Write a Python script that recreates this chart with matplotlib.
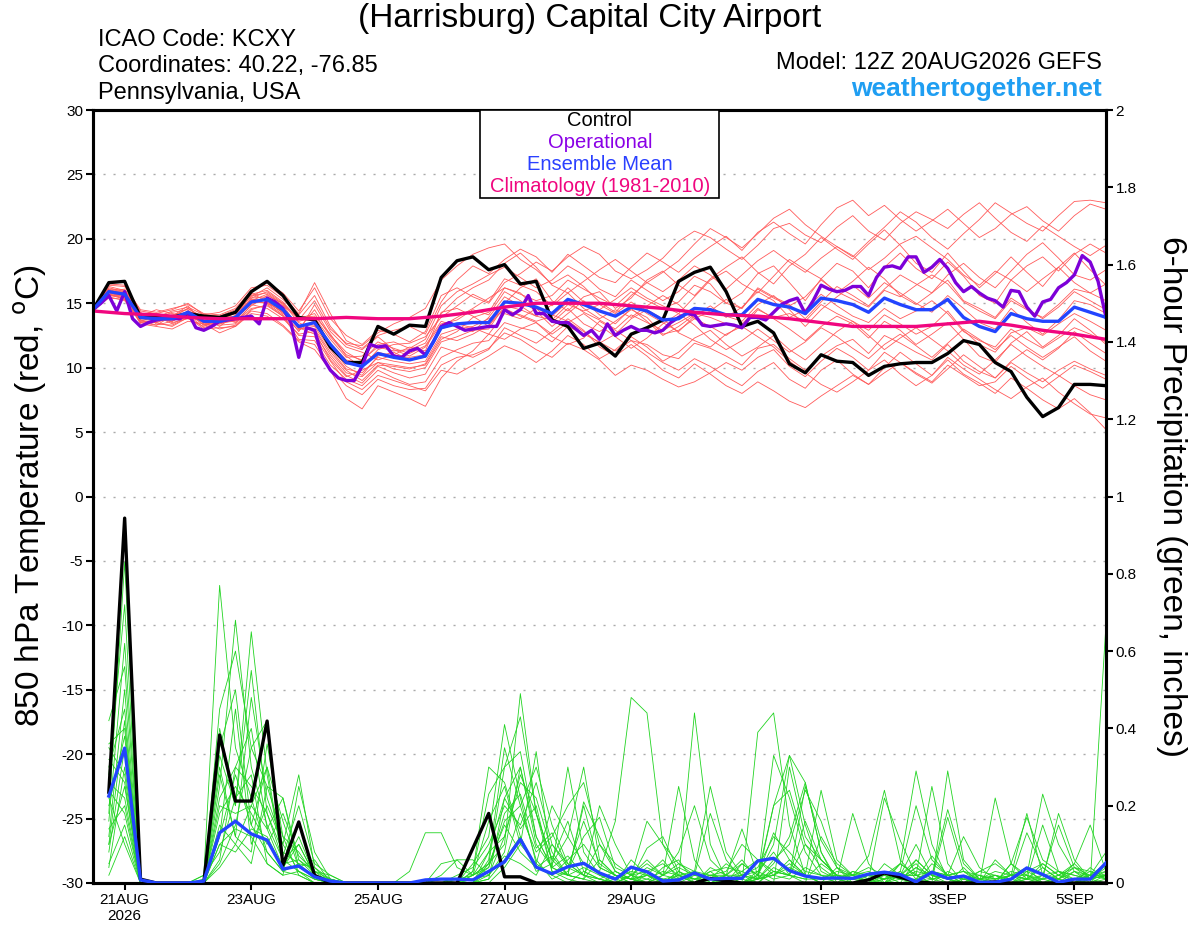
import numpy as np
import matplotlib
matplotlib.use('Agg')
import matplotlib.pyplot as plt
from matplotlib.patches import Rectangle

plt.rcParams['font.family'] = ['Liberation Sans', 'DejaVu Sans']

# ---- data (model run 12Z 20AUG2026, hours since start) ----
hours_6h = np.arange(65) * 6
hours_3h = np.arange(129) * 3
hours_12h = np.arange(33) * 12
hours_pcp = np.arange(1, 65) * 6

tick_hours = [12, 60, 108, 156, 204, 276, 324, 372]
tick_labels = ['21AUG\n2026', '23AUG', '25AUG', '27AUG', '29AUG', '1SEP', '3SEP', '5SEP']

# control temperature (6h)
control_t = [14.5, 16.6, 16.7, 13.9, 13.9, 13.9, 14.2, 14.0, 13.9, 14.3,
             15.9, 16.7, 15.6, 13.9, 13.7, 11.6, 10.4, 10.4, 13.2, 12.6,
             13.3, 13.2, 17.0, 18.3, 18.6, 17.6, 18.0, 16.5, 16.7, 13.7,
             13.2, 11.5, 11.9, 10.9, 12.6, 13.1, 13.7, 16.7, 17.4, 17.8,
             15.9, 13.2, 13.6, 12.7, 10.3, 9.6, 11.0, 10.5, 10.4, 9.4,
             10.1, 10.3, 10.4, 10.4, 11.1, 12.1, 11.8, 10.4, 9.7, 7.7,
             6.2, 6.9, 8.7, 8.7, 8.6]

# operational temperature (3h)
oper_t = [14.5, 15.0, 15.6, 14.4, 15.9, 13.8, 13.2, 13.5, 13.7, 13.8,
          13.8, 13.8, 14.3, 13.1, 12.9, 13.2, 13.6, 13.7, 13.8, 13.9,
          14.0, 13.4, 15.4, 15.1, 14.6, 13.5, 10.8, 13.1, 12.9, 10.8,
          9.8, 9.2, 9.0, 9.0, 10.1, 11.8, 11.6, 11.7, 10.9, 10.8,
          11.3, 11.5, 11.0, 12.0, 13.2, 13.5, 13.2, 12.9, 13.0, 13.1,
          13.2, 13.2, 14.5, 14.1, 14.5, 15.6, 14.2, 14.2, 13.6, 13.5,
          13.5, 13.0, 12.5, 12.9, 12.2, 13.4, 12.5, 12.9, 13.2, 12.9,
          12.9, 12.7, 12.9, 13.5, 13.9, 14.2, 14.1, 13.3, 13.2, 13.3,
          13.4, 13.3, 13.1, 13.9, 13.9, 13.7, 14.3, 14.9, 15.2, 15.4,
          14.2, 15.2, 16.4, 16.1, 15.9, 16.0, 16.3, 16.3, 15.6, 17.0,
          17.8, 17.9, 17.7, 18.6, 18.6, 17.4, 17.8, 18.4, 17.7, 16.6,
          15.9, 16.3, 15.8, 15.4, 15.2, 14.7, 16.0, 15.9, 14.7, 14.0,
          15.1, 15.3, 16.2, 16.6, 17.2, 18.7, 18.2, 16.7, 13.9]

# ensemble mean temperature (6h)
mean_t = [14.5, 15.9, 15.7, 13.9, 13.8, 13.8, 14.3, 13.6, 13.6, 13.9,
          15.1, 15.3, 14.5, 13.2, 13.5, 11.8, 10.4, 10.1, 11.1, 10.8,
          10.6, 10.9, 13.1, 13.4, 13.5, 13.5, 15.1, 15.0, 14.7, 14.2,
          15.3, 14.9, 14.4, 14.0, 14.7, 14.4, 13.7, 13.8, 14.6, 14.5,
          14.1, 14.1, 15.3, 14.9, 14.7, 14.2, 15.4, 15.2, 14.9, 14.3,
          15.4, 14.9, 14.5, 14.5, 15.3, 13.9, 13.2, 12.8, 14.2, 13.8,
          13.6, 13.6, 14.7, 14.3, 13.9]

# climatology 1981-2010 (12h)
clim_t = [14.4, 14.2, 14.1, 13.9, 13.8, 13.8, 13.8, 13.8, 13.9, 13.8,
          13.8, 14.0, 14.3, 14.7, 15.0, 15.0, 15.0, 14.8, 14.6, 14.3,
          14.1, 14.0, 13.8, 13.5, 13.2, 13.2, 13.2, 13.4, 13.6, 13.3,
          12.9, 12.6, 12.2]

# ensemble members temperature (6h)
ens_t = [
    [14.6, 16.2, 15.9, 14.2, 13.5, 13.9, 14.6, 13.9, 13.2, 14.1, 15.6, 15.8, 14.9, 13.0, 14.5, 12.5, 11.2, 10.5, 11.8, 12.0, 11.5, 12.2, 14.8, 15.9, 16.5, 17.2, 17.8, 17.0, 16.2, 16.8, 17.9, 17.2, 16.1, 15.5, 16.8, 16.0, 15.2, 15.9, 17.1, 16.5, 15.0, 15.8, 17.3, 17.9, 16.6, 15.2, 16.9, 18.1, 17.5, 16.2, 17.8, 18.9, 17.7, 16.9, 18.2, 17.1, 15.6, 15.0, 16.8, 17.9, 18.6, 17.5, 18.8, 19.6, 18.9],
    [14.4, 15.5, 15.2, 13.6, 14.0, 13.5, 13.8, 13.2, 13.9, 13.5, 14.6, 14.8, 14.0, 12.2, 12.1, 10.2, 9.1, 8.6, 9.8, 9.2, 8.7, 8.9, 10.8, 11.4, 11.9, 12.1, 13.5, 13.1, 12.8, 12.0, 13.2, 12.6, 12.0, 11.3, 12.1, 11.8, 11.0, 10.7, 11.9, 11.5, 10.9, 10.2, 11.5, 11.8, 10.7, 9.8, 10.9, 11.7, 12.2, 11.1, 12.5, 11.9, 11.2, 10.6, 11.8, 10.5, 9.7, 9.2, 10.4, 9.6, 8.9, 9.8, 10.5, 9.9, 9.4],
    [14.7, 16.4, 16.3, 14.5, 14.3, 14.6, 14.9, 14.2, 14.1, 14.6, 16.0, 16.6, 15.8, 14.4, 16.2, 13.8, 12.5, 11.8, 12.9, 12.6, 12.0, 12.8, 15.6, 16.2, 15.5, 15.0, 16.6, 17.3, 18.2, 17.5, 18.6, 19.4, 18.8, 17.5, 16.9, 17.6, 18.5, 19.8, 20.6, 20.1, 19.2, 18.4, 19.5, 20.8, 21.2, 20.3, 19.7, 20.9, 21.8, 20.6, 19.9, 21.2, 22.1, 21.5, 20.8, 21.9, 22.8, 21.6, 20.5, 19.8, 21.0, 20.2, 19.4, 18.7, 19.5],
    [14.3, 15.7, 15.4, 13.4, 13.2, 13.0, 13.6, 13.4, 12.7, 13.2, 14.2, 14.0, 13.2, 12.0, 11.4, 9.8, 7.6, 6.8, 8.6, 8.1, 7.6, 7.0, 9.2, 10.5, 11.3, 12.6, 12.2, 13.0, 13.5, 12.4, 11.8, 12.3, 13.6, 12.9, 12.1, 11.2, 10.4, 9.8, 10.7, 10.1, 9.3, 8.6, 9.7, 10.4, 9.1, 8.4, 9.8, 10.6, 9.5, 8.7, 10.0, 11.2, 10.3, 9.4, 10.6, 9.5, 8.8, 8.0, 9.2, 8.4, 7.5, 6.8, 7.6, 6.5, 5.2],
    [14.5, 16.0, 15.8, 14.0, 14.5, 14.2, 14.0, 13.5, 13.8, 14.2, 15.3, 15.2, 14.2, 13.6, 13.9, 12.2, 10.8, 10.9, 12.0, 11.5, 11.1, 11.7, 13.6, 13.2, 12.8, 13.9, 15.5, 14.8, 14.0, 14.9, 16.2, 15.1, 14.5, 15.3, 16.2, 15.4, 14.8, 14.2, 15.5, 16.8, 17.5, 16.5, 15.8, 17.1, 18.4, 17.6, 16.9, 15.8, 16.7, 17.8, 16.9, 15.6, 14.9, 15.8, 17.2, 18.1, 17.0, 16.2, 17.5, 18.8, 19.7, 18.5, 17.2, 16.8, 17.6],
    [14.6, 15.8, 15.5, 13.7, 13.3, 14.0, 14.8, 13.4, 13.5, 13.6, 14.8, 15.6, 15.0, 13.5, 12.9, 11.0, 9.6, 9.3, 10.4, 10.2, 10.0, 10.2, 12.2, 12.8, 13.9, 14.3, 16.2, 15.8, 14.6, 13.5, 14.6, 13.4, 12.8, 13.6, 14.5, 13.9, 12.6, 12.9, 13.8, 13.2, 12.5, 13.4, 14.6, 13.8, 13.0, 12.1, 13.2, 14.0, 13.4, 12.3, 13.6, 12.9, 11.8, 12.6, 13.5, 12.2, 10.9, 10.4, 11.9, 12.8, 11.6, 12.5, 13.8, 12.9, 11.8],
    [14.4, 16.3, 16.0, 14.1, 13.9, 13.6, 14.4, 14.0, 13.8, 14.4, 15.8, 15.1, 14.3, 12.8, 14.9, 12.8, 11.6, 11.2, 10.6, 11.0, 11.6, 11.3, 14.3, 14.6, 14.0, 13.2, 15.0, 16.2, 16.9, 15.2, 14.4, 15.5, 15.9, 14.6, 15.4, 16.8, 17.5, 16.4, 15.6, 16.9, 17.8, 18.6, 17.4, 16.5, 17.9, 18.8, 20.1, 19.2, 18.4, 19.6, 20.7, 19.5, 18.1, 17.4, 18.9, 17.5, 16.2, 17.3, 18.6, 17.4, 16.3, 17.8, 18.9, 17.6, 16.4],
    [14.5, 15.6, 15.7, 13.8, 14.1, 13.7, 14.2, 13.8, 13.4, 13.7, 15.0, 15.4, 14.6, 13.0, 13.2, 11.4, 9.9, 9.6, 10.8, 10.5, 10.3, 10.5, 12.6, 13.0, 13.2, 13.8, 14.4, 14.1, 13.6, 14.0, 15.1, 14.3, 13.7, 13.0, 14.1, 13.5, 12.9, 13.5, 14.2, 13.9, 13.4, 13.0, 14.5, 13.9, 14.2, 13.6, 14.9, 14.2, 13.6, 12.9, 14.1, 13.4, 12.6, 13.2, 14.4, 12.9, 11.8, 11.2, 12.7, 13.1, 12.5, 13.4, 14.2, 13.6, 12.9],
    [14.6, 16.1, 15.6, 13.5, 13.6, 13.9, 14.1, 13.1, 13.6, 13.8, 15.2, 15.7, 14.8, 13.9, 14.0, 12.6, 10.9, 10.0, 11.4, 11.8, 11.9, 12.4, 13.9, 14.8, 15.7, 15.1, 16.9, 16.4, 15.9, 14.8, 15.8, 14.6, 13.8, 14.5, 13.9, 14.8, 15.6, 14.9, 13.8, 14.4, 15.3, 14.6, 16.2, 15.5, 14.9, 13.8, 15.1, 16.3, 15.6, 14.8, 16.1, 17.2, 16.5, 15.8, 16.8, 15.2, 14.6, 13.9, 15.4, 14.6, 13.8, 14.7, 15.9, 15.2, 14.5],
    [14.3, 15.9, 16.1, 14.3, 13.4, 13.3, 13.9, 13.7, 13.3, 13.4, 14.9, 14.6, 13.8, 12.6, 12.8, 10.6, 9.3, 9.8, 10.4, 9.9, 9.7, 10.0, 12.0, 12.4, 12.9, 13.0, 14.8, 14.5, 14.0, 13.7, 14.9, 14.4, 14.9, 14.2, 15.1, 14.2, 13.5, 12.8, 14.0, 14.8, 13.9, 14.7, 15.9, 15.2, 13.9, 14.5, 15.7, 14.8, 14.0, 13.5, 14.6, 13.8, 14.4, 15.2, 14.2, 12.8, 12.1, 11.6, 13.0, 12.2, 11.5, 12.3, 13.1, 12.6, 12.0],
    [14.5, 15.4, 15.3, 13.9, 13.8, 14.3, 14.5, 13.3, 13.7, 14.3, 15.5, 16.2, 15.3, 14.1, 15.6, 13.2, 11.8, 11.4, 12.4, 11.4, 10.9, 11.6, 13.4, 13.7, 14.5, 14.1, 15.9, 15.2, 14.4, 13.2, 14.2, 15.2, 14.1, 13.4, 14.6, 13.6, 12.5, 13.2, 14.1, 14.6, 14.0, 13.6, 14.9, 15.6, 14.5, 13.2, 14.5, 15.5, 16.4, 15.4, 16.6, 15.8, 15.0, 14.3, 15.6, 14.6, 13.5, 13.0, 14.6, 13.5, 12.6, 13.7, 15.2, 14.9, 14.2],
    [14.4, 15.6, 15.4, 13.6, 13.5, 13.2, 13.9, 13.0, 13.1, 13.2, 14.4, 14.2, 13.3, 12.1, 11.8, 9.9, 8.6, 7.9, 9.1, 8.6, 8.3, 8.4, 10.2, 10.8, 11.0, 11.5, 12.7, 12.2, 11.4, 10.8, 11.9, 11.4, 10.6, 9.4, 10.2, 9.8, 9.1, 8.5, 8.9, 9.6, 10.4, 9.8, 10.8, 11.4, 10.1, 9.3, 10.5, 11.5, 10.8, 9.8, 11.2, 10.4, 9.6, 8.9, 10.2, 9.4, 8.6, 8.9, 10.1, 9.2, 8.4, 9.3, 10.2, 9.7, 9.1],
    [14.6, 16.5, 16.4, 14.4, 14.2, 14.5, 15.0, 14.1, 14.3, 14.8, 16.2, 16.4, 15.5, 14.2, 16.6, 14.2, 12.1, 11.5, 12.5, 12.9, 13.2, 12.6, 15.1, 16.8, 17.9, 17.3, 18.4, 19.2, 18.6, 17.4, 18.8, 17.9, 17.0, 16.6, 17.8, 18.9, 18.2, 17.4, 18.5, 19.4, 20.2, 19.1, 20.5, 21.3, 20.4, 19.6, 21.1, 22.4, 23.0, 21.8, 22.6, 21.5, 20.6, 21.4, 22.3, 21.2, 20.1, 20.8, 21.9, 22.5, 21.4, 20.6, 21.8, 22.7, 22.3],
    [14.5, 15.8, 15.8, 14.0, 14.0, 13.4, 14.0, 13.6, 13.6, 13.9, 15.1, 15.0, 14.1, 12.9, 13.6, 11.6, 10.1, 9.4, 10.9, 11.2, 10.6, 10.8, 13.0, 13.4, 13.1, 12.6, 14.2, 13.8, 14.6, 14.1, 13.6, 12.8, 11.9, 12.6, 13.8, 14.5, 13.8, 12.7, 12.1, 11.6, 12.6, 13.2, 12.4, 11.6, 10.5, 9.6, 8.7, 8.1, 8.9, 9.8, 10.6, 9.5, 8.6, 9.4, 10.8, 9.9, 9.1, 8.3, 7.6, 8.5, 9.2, 8.1, 7.2, 6.4, 6.1],
    [14.4, 16.0, 15.6, 13.7, 13.7, 14.1, 14.3, 13.5, 13.5, 13.7, 15.4, 15.5, 14.6, 13.3, 13.3, 11.9, 10.6, 10.3, 11.2, 10.9, 10.8, 11.0, 13.2, 13.9, 14.6, 15.4, 16.2, 15.7, 15.2, 15.6, 16.8, 16.1, 15.4, 14.8, 15.9, 15.2, 14.6, 15.1, 16.4, 15.9, 15.0, 14.6, 16.1, 15.4, 14.8, 15.5, 16.8, 15.9, 15.3, 14.7, 16.0, 15.5, 16.4, 17.2, 16.5, 15.1, 14.4, 13.8, 15.2, 14.5, 13.9, 14.9, 16.1, 15.8, 15.2],
    [14.5, 15.7, 15.5, 14.0, 13.6, 13.8, 14.1, 13.6, 13.4, 13.8, 15.0, 15.1, 14.3, 13.1, 12.6, 10.8, 9.4, 8.8, 10.1, 9.6, 9.2, 9.5, 11.6, 11.2, 10.8, 11.4, 13.1, 12.5, 11.9, 12.8, 13.8, 12.9, 11.6, 10.9, 11.8, 10.9, 9.8, 9.2, 10.3, 9.5, 8.6, 8.0, 8.9, 8.2, 7.4, 6.9, 7.8, 8.6, 9.4, 8.7, 9.6, 10.4, 9.5, 8.8, 9.9, 11.0, 10.1, 9.2, 10.5, 11.4, 10.6, 11.5, 12.8, 11.9, 11.1],
    [14.5, 16.1, 16.0, 14.2, 13.9, 14.4, 14.7, 14.1, 14.0, 14.5, 15.7, 16.0, 15.1, 13.7, 15.2, 13.0, 11.9, 11.7, 12.7, 13.4, 13.9, 14.6, 16.8, 17.9, 18.8, 19.3, 19.6, 18.4, 17.6, 16.5, 17.2, 16.3, 15.1, 14.3, 15.6, 16.6, 17.4, 18.3, 19.6, 20.8, 20.1, 19.3, 20.4, 21.6, 22.3, 21.1, 20.2, 19.4, 18.6, 19.8, 20.9, 22.1, 21.3, 20.1, 19.2, 20.4, 21.5, 22.8, 22.0, 21.2, 20.6, 21.8, 22.9, 23.0, 22.8],
    [14.4, 15.7, 15.3, 13.5, 13.3, 13.6, 14.3, 13.5, 13.0, 13.3, 14.5, 14.9, 14.0, 12.5, 12.4, 10.5, 8.9, 8.3, 9.4, 9.0, 8.6, 8.2, 9.8, 9.5, 10.2, 10.9, 11.7, 11.2, 10.4, 11.3, 12.5, 11.8, 10.7, 11.4, 12.4, 11.6, 10.5, 11.2, 12.3, 12.9, 11.8, 10.9, 11.6, 12.5, 11.4, 10.6, 11.7, 12.8, 13.6, 12.5, 11.4, 12.3, 13.1, 12.2, 11.3, 10.2, 9.5, 10.6, 11.8, 10.9, 10.1, 9.4, 8.6, 7.9, 7.5],
    [14.6, 15.9, 15.9, 14.1, 14.2, 14.0, 14.6, 13.8, 13.9, 14.0, 15.4, 15.9, 15.0, 13.8, 14.2, 12.4, 11.0, 10.6, 11.6, 11.3, 11.4, 11.9, 14.2, 15.4, 16.2, 16.8, 18.1, 18.9, 17.8, 16.4, 15.8, 16.7, 17.6, 18.4, 17.5, 16.6, 15.9, 16.8, 17.9, 17.2, 16.1, 17.2, 18.3, 19.1, 18.2, 17.4, 18.5, 19.4, 18.7, 17.6, 18.5, 19.6, 20.2, 19.3, 18.4, 17.2, 16.4, 17.5, 16.8, 15.9, 16.9, 17.8, 16.6, 15.8, 16.5],
    [14.5, 15.8, 15.6, 13.8, 13.9, 13.6, 14.2, 13.3, 13.5, 13.9, 15.2, 15.0, 14.4, 13.1, 13.0, 11.2, 9.8, 9.0, 10.2, 10.1, 9.9, 10.3, 12.4, 12.1, 12.6, 13.3, 14.6, 14.0, 13.5, 12.6, 13.5, 14.2, 13.3, 12.4, 11.5, 12.3, 13.4, 14.2, 13.3, 12.2, 11.4, 12.1, 13.0, 12.1, 11.2, 12.0, 13.1, 12.4, 11.5, 10.7, 11.8, 12.6, 11.7, 10.8, 11.9, 13.0, 12.2, 11.4, 12.5, 11.6, 10.8, 11.6, 12.4, 11.3, 10.5],
]

# 6-hour precipitation, inches (valid 18Z 20AUG onwards)
control_p = [0.235, 0.944, 0.01, 0, 0, 0, 0, 0.383, 0.212, 0.212,
             0.419, 0.046, 0.158, 0.02, 0, 0, 0, 0, 0, 0,
             0, 0, 0, 0.09, 0.18, 0.016, 0.016, 0, 0, 0,
             0, 0, 0, 0, 0, 0, 0, 0, 0.012, 0.005,
             0, 0, 0, 0, 0, 0, 0, 0, 0.008, 0.026,
             0.015, 0.003, 0, 0, 0, 0, 0.003, 0, 0, 0,
             0, 0, 0, 0]

mean_p = [0.225, 0.349, 0.008, 0, 0, 0, 0.005, 0.13, 0.16, 0.127,
          0.111, 0.036, 0.044, 0.016, 0.005, 0, 0, 0, 0, 0,
          0.008, 0.01, 0.01, 0.008, 0.03, 0.055, 0.113, 0.041, 0.024, 0.042,
          0.051, 0.026, 0.01, 0.041, 0.029, 0.005, 0.008, 0.026, 0.01, 0.012,
          0.012, 0.057, 0.064, 0.032, 0.018, 0.012, 0.013, 0.012, 0.023, 0.028,
          0.022, 0.003, 0.028, 0.012, 0.018, 0.002, 0.002, 0.01, 0.039, 0.022,
          0.002, 0.01, 0.01, 0.052]

ens_p = [
    [0.18, 0.83, 0, 0, 0, 0, 0.02, 0.77, 0.35, 0.22, 0.08, 0.03, 0.05, 0.01, 0, 0, 0, 0, 0, 0, 0, 0, 0, 0.05, 0.12, 0.41, 0.22, 0.05, 0.02, 0, 0.03, 0.01, 0, 0.06, 0.02, 0, 0, 0, 0.04, 0.02, 0, 0.39, 0.44, 0.15, 0.02, 0, 0, 0, 0, 0.01, 0.03, 0, 0.05, 0.02, 0, 0, 0, 0, 0.03, 0.01, 0, 0, 0, 0.05],
    [0.42, 0.56, 0.01, 0, 0, 0, 0, 0.25, 0.68, 0.3, 0.15, 0.06, 0.1, 0.02, 0, 0, 0, 0, 0, 0.03, 0.13, 0.13, 0.04, 0.02, 0.05, 0.1, 0.49, 0.18, 0.03, 0.01, 0, 0, 0.02, 0.01, 0, 0, 0.03, 0.01, 0, 0, 0.05, 0.02, 0.1, 0.33, 0.26, 0.08, 0.01, 0, 0, 0, 0.02, 0.05, 0.01, 0, 0, 0.02, 0, 0, 0.01, 0.05, 0.02, 0, 0, 0.67],
    [0.3, 0.45, 0, 0, 0, 0, 0, 0.4, 0.2, 0.65, 0.28, 0.05, 0.06, 0.02, 0.01, 0, 0, 0, 0, 0, 0, 0, 0, 0.03, 0.23, 0.3, 0.34, 0.12, 0.04, 0.3, 0.08, 0.02, 0, 0.02, 0.16, 0.1, 0.05, 0.03, 0, 0.01, 0.02, 0.01, 0.05, 0.12, 0.26, 0.08, 0, 0, 0, 0.03, 0.01, 0, 0, 0.29, 0.06, 0.01, 0, 0.02, 0.01, 0, 0, 0.03, 0.01, 0.04],
    [0.08, 0.35, 0, 0, 0, 0, 0, 0.12, 0.45, 0.1, 0.2, 0.1, 0.28, 0.04, 0, 0, 0, 0, 0, 0, 0, 0, 0, 0, 0.05, 0.3, 0.43, 0.18, 0.06, 0.02, 0.2, 0.04, 0.02, 0, 0, 0, 0.02, 0, 0, 0, 0, 0.03, 0.08, 0.02, 0.25, 0.11, 0.04, 0, 0.02, 0, 0, 0.01, 0.07, 0.02, 0, 0, 0, 0, 0.02, 0.23, 0.1, 0.03, 0, 0.02],
    [0.26, 0.22, 0, 0, 0, 0, 0, 0.05, 0.15, 0.35, 0.42, 0.07, 0.2, 0.05, 0.02, 0, 0, 0, 0, 0, 0, 0, 0.02, 0.04, 0.1, 0.2, 0.15, 0.26, 0.1, 0.05, 0.02, 0.1, 0.05, 0.02, 0, 0.04, 0.06, 0, 0, 0.02, 0.05, 0.02, 0, 0.3, 0.12, 0.06, 0.02, 0, 0, 0, 0.05, 0.02, 0.25, 0.05, 0, 0, 0.02, 0, 0, 0, 0.01, 0.05, 0.15, 0.03],
    [0.05, 0.15, 0, 0, 0, 0, 0.01, 0.3, 0.12, 0.08, 0.36, 0.12, 0.02, 0, 0, 0, 0, 0, 0, 0, 0, 0, 0.01, 0.02, 0.16, 0.25, 0.1, 0.05, 0.2, 0.12, 0.05, 0.03, 0.16, 0.48, 0.44, 0.1, 0.02, 0, 0.03, 0, 0, 0.01, 0.02, 0.05, 0.02, 0, 0.04, 0.02, 0.07, 0.24, 0.06, 0.01, 0, 0, 0.04, 0, 0.22, 0.05, 0.01, 0.15, 0.03, 0, 0.01, 0.02],
    [0.35, 0.28, 0, 0, 0, 0, 0, 0.18, 0.25, 0.18, 0.1, 0.18, 0.07, 0.03, 0, 0, 0, 0, 0, 0, 0, 0.02, 0.06, 0.06, 0.02, 0.08, 0.3, 0.12, 0.04, 0.07, 0.02, 0, 0, 0, 0.02, 0.06, 0.01, 0.44, 0.1, 0.01, 0, 0.02, 0.13, 0.06, 0.02, 0, 0.01, 0.18, 0.05, 0, 0.03, 0.2, 0.06, 0.02, 0.01, 0, 0, 0.05, 0.02, 0, 0, 0, 0.04, 0.01],
    [0.12, 0.5, 0, 0, 0, 0, 0, 0.22, 0.3, 0.4, 0.14, 0.04, 0.12, 0.02, 0, 0, 0, 0, 0, 0, 0, 0, 0, 0.01, 0.04, 0.18, 0.23, 0.09, 0.13, 0.04, 0.16, 0.05, 0.02, 0.01, 0.09, 0.12, 0.03, 0, 0, 0, 0, 0.01, 0.33, 0.22, 0.08, 0.02, 0, 0.03, 0.01, 0, 0.02, 0.1, 0.02, 0.01, 0, 0.03, 0.05, 0.02, 0, 0.01, 0.18, 0.06, 0.01, 0],
    [0.2, 0.38, 0, 0, 0, 0, 0, 0.15, 0.1, 0.05, 0.25, 0.22, 0.04, 0.06, 0, 0, 0, 0, 0, 0, 0, 0, 0, 0, 0.08, 0.12, 0.28, 0.18, 0.06, 0.16, 0.03, 0.01, 0, 0.02, 0.05, 0.02, 0.05, 0.02, 0.18, 0.06, 0.01, 0, 0.04, 0.02, 0, 0.12, 0.05, 0.02, 0, 0.05, 0.02, 0, 0.01, 0.17, 0.03, 0, 0, 0.01, 0.13, 0.04, 0.01, 0, 0.02, 0.05],
    [0.1, 0.42, 0, 0, 0, 0, 0.02, 0.08, 0.22, 0.28, 0.05, 0.02, 0.25, 0.08, 0.01, 0, 0, 0, 0, 0, 0, 0.01, 0, 0, 0.03, 0.05, 0.18, 0.08, 0.12, 0.2, 0.26, 0.1, 0.03, 0.01, 0, 0.02, 0.25, 0.06, 0, 0.02, 0.06, 0.01, 0.02, 0.04, 0.02, 0.24, 0.06, 0.02, 0, 0, 0.01, 0.04, 0.02, 0.19, 0.05, 0.01, 0, 0.02, 0.02, 0, 0, 0.01, 0.02, 0.03],
    [0.24, 0.18, 0, 0, 0, 0, 0, 0.1, 0.14, 0.12, 0.05, 0.02, 0.03, 0.01, 0, 0, 0, 0, 0, 0, 0, 0, 0, 0, 0, 0.04, 0.1, 0.34, 0.04, 0.02, 0.21, 0.12, 0.03, 0.01, 0.04, 0.02, 0.01, 0.03, 0.25, 0.08, 0.02, 0.01, 0.06, 0.1, 0.24, 0.16, 0.04, 0.01, 0.02, 0.02, 0, 0.06, 0.02, 0, 0, 0, 0.06, 0.02, 0.04, 0, 0.02, 0.04, 0.02, 0.08],
    [0.16, 0.62, 0.01, 0, 0, 0, 0, 0.35, 0.5, 0.15, 0.08, 0.03, 0.02, 0, 0, 0, 0, 0, 0, 0, 0, 0, 0, 0, 0.06, 0.35, 0.2, 0.06, 0.01, 0.03, 0.12, 0.17, 0.04, 0.02, 0.03, 0.01, 0, 0.02, 0.01, 0.05, 0.02, 0, 0.03, 0.02, 0.1, 0.06, 0.02, 0.01, 0.01, 0.22, 0.11, 0.02, 0, 0.03, 0.01, 0, 0, 0.05, 0.17, 0.06, 0.03, 0.01, 0, 0.01],
    [0.04, 0.3, 0, 0, 0, 0, 0, 0.2, 0.18, 0.2, 0.3, 0.05, 0.15, 0.03, 0.02, 0, 0, 0, 0, 0, 0, 0.05, 0.06, 0.02, 0.05, 0.15, 0.08, 0.04, 0.07, 0.02, 0.01, 0.2, 0.1, 0.02, 0.01, 0, 0.02, 0.01, 0.02, 0.03, 0.1, 0.06, 0.03, 0.02, 0.01, 0.05, 0.02, 0.01, 0.02, 0.01, 0.02, 0.02, 0.01, 0.02, 0.03, 0.02, 0.01, 0.03, 0.02, 0.01, 0.02, 0.05, 0.01, 0.02],
    [0.32, 0.26, 0, 0, 0, 0, 0, 0.06, 0.3, 0.25, 0.18, 0.08, 0.05, 0.04, 0.01, 0, 0, 0, 0, 0, 0, 0, 0, 0.03, 0.3, 0.26, 0.12, 0.03, 0.05, 0.12, 0.3, 0.06, 0.02, 0, 0.01, 0.03, 0.02, 0, 0.01, 0.02, 0.14, 0.02, 0.02, 0.01, 0.04, 0.02, 0.02, 0.01, 0, 0.01, 0.05, 0.29, 0.1, 0.01, 0, 0.01, 0.02, 0, 0.01, 0.04, 0.01, 0, 0.02, 0.01],
    [0.14, 0.2, 0, 0, 0, 0, 0, 0.28, 0.12, 0.48, 0.22, 0.1, 0.03, 0, 0, 0, 0, 0, 0, 0, 0, 0, 0, 0, 0.01, 0.22, 0.14, 0.2, 0.03, 0.02, 0.01, 0, 0.01, 0, 0.03, 0.05, 0.02, 0.01, 0.03, 0.04, 0.03, 0.01, 0.2, 0.33, 0.15, 0.03, 0.01, 0.02, 0.02, 0.03, 0.01, 0.01, 0.03, 0.02, 0.01, 0.01, 0.03, 0.02, 0.18, 0.02, 0.01, 0.04, 0.03, 0.02],
    [0.22, 0.1, 0, 0, 0, 0, 0, 0.1, 0.08, 0.14, 0.12, 0.04, 0.1, 0.02, 0, 0, 0, 0, 0, 0, 0, 0, 0, 0.01, 0.02, 0.07, 0.05, 0.02, 0.1, 0.04, 0.02, 0.01, 0.03, 0.01, 0.02, 0.01, 0, 0, 0.02, 0.02, 0.02, 0.03, 0.01, 0.02, 0.01, 0.01, 0.03, 0.02, 0.04, 0.02, 0.01, 0.03, 0.02, 0.01, 0.02, 0.01, 0.01, 0.02, 0.01, 0.01, 0.03, 0.02, 0.01, 0.02],
    [0.28, 0.72, 0, 0, 0, 0, 0, 0.45, 0.6, 0.35, 0.25, 0.12, 0.08, 0.02, 0, 0, 0, 0, 0, 0, 0, 0, 0, 0.02, 0.08, 0.22, 0.3, 0.1, 0.04, 0.02, 0.01, 0.06, 0.02, 0.01, 0, 0.02, 0.04, 0.02, 0.01, 0, 0, 0.02, 0.2, 0.24, 0.1, 0.04, 0.01, 0, 0, 0.02, 0.05, 0.02, 0, 0, 0.01, 0.03, 0.02, 0.01, 0, 0.02, 0.15, 0.04, 0.01, 0.02],
    [0.1, 0.25, 0, 0, 0, 0, 0, 0.33, 0.2, 0.55, 0.18, 0.06, 0.03, 0.01, 0, 0, 0, 0, 0, 0, 0, 0, 0, 0.02, 0.04, 0.16, 0.2, 0.3, 0.15, 0.05, 0.02, 0.01, 0, 0.02, 0.06, 0.02, 0.08, 0.2, 0.06, 0.02, 0, 0.01, 0.03, 0.02, 0.16, 0.06, 0.02, 0.02, 0.03, 0.01, 0.02, 0.06, 0.02, 0.01, 0, 0.02, 0.01, 0.02, 0.03, 0.05, 0.02, 0.01, 0.03, 0.01],
    [0.36, 0.4, 0, 0, 0, 0, 0, 0.12, 0.28, 0.15, 0.3, 0.16, 0.04, 0.02, 0, 0, 0, 0, 0, 0, 0, 0, 0, 0, 0.02, 0.12, 0.26, 0.22, 0.08, 0.02, 0.04, 0.02, 0.01, 0.03, 0.02, 0.01, 0.02, 0.03, 0.02, 0.01, 0.02, 0.04, 0.12, 0.08, 0.03, 0.02, 0.01, 0.03, 0.02, 0.01, 0.02, 0.02, 0.03, 0.02, 0.12, 0.04, 0.01, 0.02, 0.01, 0.02, 0.03, 0.02, 0.01, 0.03],
    [0.02, 0.12, 0, 0, 0, 0, 0, 0.04, 0.1, 0.2, 0.14, 0.22, 0.06, 0.03, 0.01, 0, 0, 0, 0, 0, 0, 0, 0, 0, 0.01, 0.06, 0.12, 0.04, 0.02, 0.06, 0.1, 0.04, 0.02, 0.01, 0.02, 0, 0.03, 0.01, 0.02, 0.01, 0.03, 0.06, 0.02, 0.06, 0.02, 0.01, 0.02, 0.01, 0.02, 0.03, 0.01, 0.04, 0.01, 0.02, 0.03, 0.01, 0.02, 0.01, 0.04, 0.02, 0.01, 0.03, 0.02, 0.02],
]

# ---- figure ----
fig = plt.figure(figsize=(12, 9.27), dpi=100)
ax = fig.add_axes([93 / 1200, 1 - 883 / 927, 1013 / 1200, 773 / 927])
ax2 = ax.twinx()

for m in ens_t:
    ax.plot(hours_6h, m, color='#ff5a5a', lw=0.6, zorder=2)
ax.plot(hours_6h, control_t, color='black', lw=2.4, zorder=3)
ax.plot(hours_3h, oper_t, color='#7d00d8', lw=2.4, zorder=4)
ax.plot(hours_6h, mean_t, color='#2244ff', lw=2.4, zorder=5)
ax.plot(hours_12h, clim_t, color='#f0067f', lw=2.4, zorder=6)

for m in ens_p:
    ax2.plot(hours_pcp, m, color='#22d422', lw=0.6, zorder=2)
ax2.plot(hours_pcp, control_p, color='black', lw=2.4, zorder=3)
ax2.plot(hours_pcp, mean_p, color='#2244ff', lw=2.4, zorder=4)

ax.set_xlim(0, 384)
ax.set_ylim(-30, 30)
ax2.set_ylim(0, 2)
ax.set_yticks(np.arange(-30, 31, 5))
ax.set_yticklabels([f'{v:d}' for v in range(-30, 31, 5)])
ax2.set_yticks(np.arange(0, 2.01, 0.2))
ax2.set_yticklabels([f'{v:g}' for v in np.round(np.arange(0, 2.01, 0.2), 1)])
ax.set_xticks(tick_hours)
ax.set_xticklabels(tick_labels)

ax.yaxis.grid(True, color='#aaaaaa', lw=1.0, linestyle=(0, (1.5, 5.7)))
ax.set_axisbelow(True)

for a in (ax, ax2):
    for s in a.spines.values():
        s.set_linewidth(2.2)
    a.tick_params(direction='out', length=5, width=1.5, labelsize=11, pad=2)

# legend box with coloured text
fig.patches.append(Rectangle((480 / 1200, 1 - 198 / 927), 239 / 1200, 88 / 927,
                             transform=fig.transFigure, facecolor='white',
                             edgecolor='black', lw=1.2, zorder=10))
legend_items = [('Control', 'black'), ('Operational', '#8a00e6'),
                ('Ensemble Mean', '#2a40ff'), ('Climatology (1981-2010)', '#f0067f')]
for k, (txt, col) in enumerate(legend_items):
    fig.text(600 / 1200, 1 - (121 + 22 * k) / 927, txt, color=col, fontsize=14.5,
             ha='center', va='center', zorder=11)

# header texts
fig.text(590 / 1200, 1 - 19 / 927, '(Harrisburg) Capital City Airport',
         fontsize=24, ha='center', va='center')
fig.text(98 / 1200, 1 - 40 / 927, 'ICAO Code: KCXY', fontsize=17, va='center')
fig.text(98 / 1200, 1 - 66 / 927, 'Coordinates: 40.22, -76.85', fontsize=17, va='center')
fig.text(98 / 1200, 1 - 93 / 927, 'Pennsylvania, USA', fontsize=17, va='center')
fig.text(1102 / 1200, 1 - 63 / 927, 'Model: 12Z 20AUG2026 GEFS', fontsize=17,
         ha='right', va='center')
fig.text(1102 / 1200, 1 - 89 / 927, 'weathertogether.net', fontsize=19,
         fontweight='bold', color='#1f9ef2', ha='right', va='center')

# axis titles
fig.text(30 / 1200, 1 - 496 / 927, '850 hPa Temperature (red, $^{\\mathrm{o}}$C)',
         fontsize=24, rotation=90, ha='center', va='center')
fig.text(1172 / 1200, 1 - 496 / 927, '6-hour Precipitation (green, inches)',
         fontsize=24, rotation=270, ha='center', va='center')

fig.savefig('out.png', dpi=100)
